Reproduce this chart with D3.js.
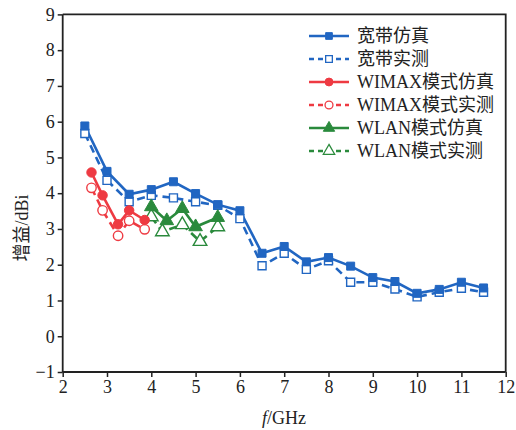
<!DOCTYPE html>
<html>
<head>
<meta charset="utf-8">
<script src="https://cdn.jsdelivr.net/npm/d3@7"></script>
<style>
  html, body { margin: 0; padding: 0; background: #fff; }
  svg text { font-family: "Liberation Serif", "Noto Sans CJK SC", serif; fill: #222; }
</style>
</head>
<body>
<svg id="chart" width="516" height="430"></svg>
<script>
// Gain vs. frequency: broadband antenna and its WiMAX / WLAN modes
const bandFreq = [2.5, 3, 3.5, 4, 4.5, 5, 5.5, 6, 6.5, 7, 7.5, 8, 8.5, 9, 9.5, 10, 10.5, 11, 11.5];
const bandSim  = [5.88, 4.61, 3.97, 4.10, 4.32, 3.99, 3.68, 3.51, 2.32, 2.51, 2.08, 2.20, 1.96, 1.64, 1.53, 1.20, 1.31, 1.51, 1.35];
const bandMeas = [5.67, 4.36, 3.76, 3.94, 3.87, 3.76, 3.66, 3.29, 1.97, 2.32, 1.87, 2.11, 1.51, 1.51, 1.32, 1.10, 1.23, 1.34, 1.23];

const wimaxFreq = [2.65, 2.9, 3.25, 3.5, 3.85];
const wimaxSim  = [4.58, 3.94, 3.13, 3.52, 3.25];
const wimaxMeas = [4.15, 3.52, 2.81, 3.23, 2.99];

const wlanSimFreq  = [4.0, 4.35, 4.7, 5.0, 5.5];
const wlanSim      = [3.62, 3.23, 3.57, 3.06, 3.32];
const wlanMeasFreq = [4.0, 4.25, 4.7, 5.1, 5.5];
const wlanMeas     = [3.34, 2.92, 3.12, 2.65, 3.06];

const xTicks = [2, 3, 4, 5, 6, 7, 8, 9, 10, 11, 12];
const yTicks = [-1, 0, 1, 2, 3, 4, 5, 6, 7, 8, 9];

const legendLabels = ["宽带仿真", "宽带实测", "WIMAX模式仿真", "WIMAX模式实测", "WLAN模式仿真", "WLAN模式实测"];

const BLUE = "#2166c2", RED = "#ee3a42", GREEN = "#2a8a3c";

const series = [
  { name: legendLabels[0], xs: bandFreq,     ys: bandSim,   color: BLUE,  shape: "square",   filled: true  },
  { name: legendLabels[1], xs: bandFreq,     ys: bandMeas,  color: BLUE,  shape: "square",   filled: false },
  { name: legendLabels[2], xs: wimaxFreq,    ys: wimaxSim,  color: RED,   shape: "circle",   filled: true  },
  { name: legendLabels[3], xs: wimaxFreq,    ys: wimaxMeas, color: RED,   shape: "circle",   filled: false },
  { name: legendLabels[4], xs: wlanSimFreq,  ys: wlanSim,   color: GREEN, shape: "triangle", filled: true  },
  { name: legendLabels[5], xs: wlanMeasFreq, ys: wlanMeas,  color: GREEN, shape: "triangle", filled: false }
];

const svg = d3.select("#chart");
const margin = { left: 62.7, right: 516 - 505.7, top: 14.4, bottom: 430 - 372 };
const W = 516, H = 430;

const x = d3.scaleLinear().domain([2, 12]).range([margin.left, W - margin.right]);
const y = d3.scaleLinear().domain([-1, 9]).range([H - margin.bottom, margin.top]);

const symbolFor = s => s === "square" ? d3.symbolSquare : s === "circle" ? d3.symbolCircle : d3.symbolTriangle;
const sizeFor = s => s === "square" ? 64 : s === "circle" ? 70 : 80;

// lines: measured (dashed) drawn first, simulated on top
const line = d3.line();
const order = [1, 3, 5, 0, 2, 4];
order.forEach(i => {
  const s = series[i];
  const pts = s.xs.map((v, j) => [x(v), y(s.ys[j])]);
  svg.append("path")
    .attr("d", line(pts))
    .attr("fill", "none")
    .attr("stroke", s.color)
    .attr("stroke-width", 2.6)
    .attr("stroke-dasharray", s.filled ? null : "8,5");
});
order.forEach(i => {
  const s = series[i];
  svg.append("g").selectAll("path")
    .data(s.xs.map((v, j) => [v, s.ys[j]]))
    .join("path")
    .attr("transform", d => `translate(${x(d[0])},${y(d[1])})`)
    .attr("d", d3.symbol().type(symbolFor(s.shape)).size(sizeFor(s.shape)))
    .attr("fill", s.filled ? s.color : "#fff")
    .attr("stroke", s.color)
    .attr("stroke-width", s.filled ? 1 : 1.4);
});

// axes
const xAxis = svg.append("g")
  .attr("transform", `translate(0,${H - margin.bottom})`)
  .call(d3.axisBottom(x).tickValues(xTicks).tickSize(5).tickPadding(3).tickFormat(d3.format("d")));
const yAxis = svg.append("g")
  .attr("transform", `translate(${margin.left},0)`)
  .call(d3.axisLeft(y).tickValues(yTicks).tickSize(5).tickPadding(3).tickFormat(d => d < 0 ? "\u2212" + Math.abs(d) : d));
[xAxis, yAxis].forEach(a => {
  a.select(".domain").attr("stroke", "#222").attr("stroke-width", 1.8);
  a.selectAll(".tick line").attr("stroke", "#222").attr("stroke-width", 1.5);
  a.selectAll(".tick text").attr("font-size", 18).attr("fill", "#222")
    .style("font-family", '"Liberation Serif", serif');
});
xAxis.selectAll(".domain").attr("d", `M${x(2)},0H${x(12)}`);
yAxis.selectAll(".domain").attr("d", `M0,${y(-1)}V${y(9)}`);

// frame top and right
svg.append("path")
  .attr("d", `M${x(2)},${y(9)}H${x(12)}V${y(-1)}`)
  .attr("fill", "none").attr("stroke", "#222").attr("stroke-width", 1.8);

// axis titles
svg.append("text")
  .attr("transform", `translate(28,228) rotate(-90)`)
  .attr("text-anchor", "middle")
  .attr("font-size", 18)
  .text("增益/dBi");

const xt = svg.append("text")
  .attr("x", 284).attr("y", 424)
  .attr("text-anchor", "middle")
  .attr("font-size", 18);
xt.append("tspan").attr("font-style", "italic").text("f");
xt.append("tspan").text("/GHz");

// legend
const lg = svg.append("g");
series.forEach((s, i) => {
  const cy = 36 + i * 23;
  const row = lg.append("g").attr("transform", `translate(0,${cy})`);
  row.append("line")
    .attr("x1", 309).attr("x2", 349).attr("y1", 0).attr("y2", 0)
    .attr("stroke", s.color).attr("stroke-width", 2.6)
    .attr("stroke-dasharray", s.filled ? null : "5,4");
  row.append("path")
    .attr("transform", "translate(329,0)")
    .attr("d", d3.symbol().type(symbolFor(s.shape)).size(sizeFor(s.shape) * 0.7))
    .attr("fill", s.filled ? s.color : "#fff")
    .attr("stroke", s.color).attr("stroke-width", s.filled ? 1 : 1.3);
  row.append("text")
    .attr("x", 357).attr("y", 0).attr("dy", "0.35em")
    .attr("font-size", 18)
    .text(s.name);
});
</script>
</body>
</html>
